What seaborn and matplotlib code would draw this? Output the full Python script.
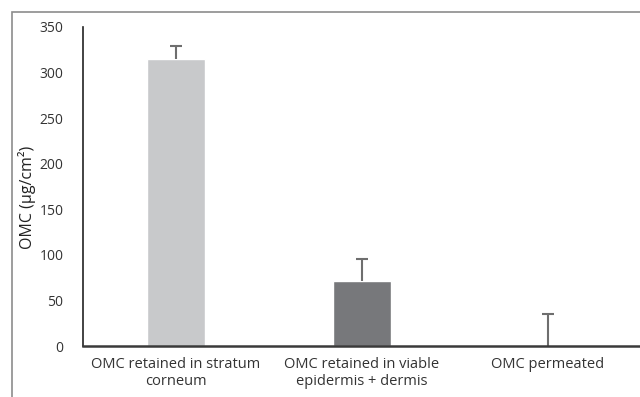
import numpy as np
import pandas as pd
import seaborn as sns
import matplotlib.pyplot as plt
from matplotlib.patches import Rectangle

# Values
categories = ["OMC retained in stratum\ncorneum",
              "OMC retained in viable\nepidermis + dermis",
              "OMC permeated"]
means = [315, 71, 0]
errors = [14, 24, 35]
bar_colors = ["#c8c9cb", "#77787b", "#77787b"]
y_ticks = [0, 50, 100, 150, 200, 250, 300, 350]

df = pd.DataFrame({"category": categories, "omc": means})

sns.set_theme(style="white")
plt.rcParams["font.family"] = ["Open Sans", "DejaVu Sans"]

fig = plt.figure(figsize=(6.4, 3.97), dpi=100)
ax = fig.add_axes([83 / 640, 1 - 346 / 397, 558 / 640, 319 / 397])

# outer chart frame (Excel style)
fig.patches.append(Rectangle((12 / 640, -0.1), 1.2, 1 - 12 / 397 + 0.1,
                             transform=fig.transFigure, fill=False,
                             edgecolor="#8c8c8c", linewidth=1.2))

sns.barplot(data=df, x="category", y="omc", hue="category",
            palette=bar_colors, width=0.31, legend=False, ax=ax)

# upper-only error bars
eb = ax.errorbar(np.arange(len(categories)), means,
                 yerr=[np.zeros(len(errors)), errors],
                 fmt="none", ecolor="#6e6e6e", elinewidth=1.5, capsize=4,
                 capthick=1.5)
eb[1][0].set_visible(False)

ax.set_ylim(0, 350)
ax.set_yticks(y_ticks)
ax.set_xlim(-0.5, 2.5)
ax.set_xlabel("")
ax.set_ylabel("OMC (µg/cm²)", fontsize=11.5, color="#222222")
ax.yaxis.set_label_coords(-0.084, 0.465)
ax.tick_params(axis="both", length=0, labelsize=10, colors="#333333")
ax.tick_params(axis="x", labelsize=10.5, pad=8)
ax.tick_params(axis="y", pad=14)

for side in ["top", "right"]:
    ax.spines[side].set_visible(False)
ax.spines["left"].set_color("#222222")
ax.spines["bottom"].set_color("#3a3a3a")
ax.spines["left"].set_linewidth(1.2)
ax.spines["bottom"].set_linewidth(1.8)

fig.savefig("out.png", dpi=100)
